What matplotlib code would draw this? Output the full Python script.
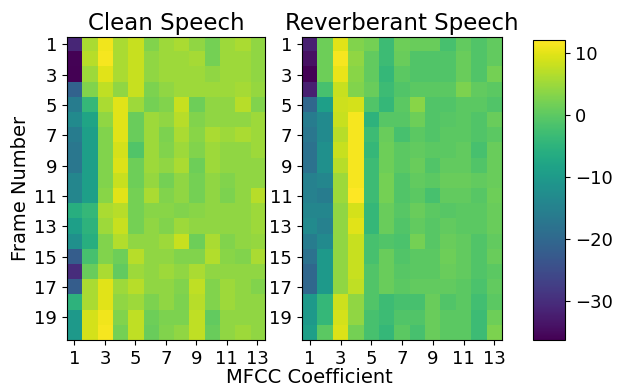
import matplotlib
matplotlib.use("Agg")
import matplotlib.pyplot as plt
import numpy as np

# rows = frames 1..20, columns = MFCC coefficients 1..13
clean = np.array([
    [-31, 6, 11, 6, 8, 3, 5, 6, 4, 2, 5, 6, 4],
    [-36, 7, 11.5, 6, 8, 4, 5, 5, 5.5, 2, 5, 5, 4],
    [-36.2, 5, 10, 6, 8, 4, 5, 5, 5, 4, 5, 5, 4],
    [-21, 3, 7.5, 4, 8, 2.5, 4, 5, 5, 5, 5, 5.5, 4.5],
    [-16, -4, 6, 10, 5, 2, 3, 8, 1.5, 4, 4, 7, 3],
    [-13, -8, 4, 10, 1, 5, 4, 7, 3, 4, 4, 4, 5],
    [-16, -9, 3, 10, 1, 5, 2.5, 6, 3.5, 6, 5, 6, 5],
    [-17, -9, 3, 9, -1, 5, 3, 5, 3, 5, 4, 4, 5],
    [-17, -9, 3, 9.5, 1.5, 5, 4, 6, 1.5, 5, 4, 4, 4],
    [-14, -9, 3, 8, 1.5, 4.5, 2, 4, 2, 4, 3, 4, 4],
    [-14, -9, 3.5, 10, 2, 6, 3, 4, 2, 4, 2.5, 4, 7],
    [-6, -4, 6, 7, 2, 3.5, 3.5, 3, 3.5, 4, 4, 4, 5],
    [-9, -5, 5, 8, 2, 4, 3, 5, 4, 4, 4, 4, 5],
    [-12, -6, 3, 6.5, 4, 4, 5, 8, 1.5, 6, 3, 4, 4.5],
    [-22, -2, 3, 1.5, 7, 4, 4, 3, 3, 6.5, 3.5, 3, 6],
    [-30, 1, 6, 0.5, 5, 4, 5, 4, 6, 4, 4, 4, 4],
    [-22, 6, 10, 5, 7, 4, 4, 3, 7.5, 3, 5, 4, 3],
    [-5, 6, 10, 4, 5, 2.5, 4, 2.5, 7, 3, 5, 4, 4],
    [-10, 9, 11, 3, 7.5, 1.5, 2.5, 2.5, 7.5, 0.5, 4, 4, 4],
    [-10, 9, 11.5, 2, 7.5, 1, 3, 4, 7.5, 1, 4, 5, 4],
])

reverb = np.array([
    [-32, 1.5, 10, 3, 2, -3, 1.5, 1, 1, -2, 0.5, -1, 0.5],
    [-34, 1.5, 11.5, 4, 0.5, -3, 1, -1, -1, -1, 1, -1, 0.5],
    [-36, 1.5, 10.5, 3.5, 0.5, -4, 0, -1, -1, -1, 1, -1, 2],
    [-32, -2, 8, 3, 1, -3, -1, 0, 0, 0, 2.5, 0.5, 0],
    [-20, -9, 8.5, 9, -1, -4, 0, 3.5, -1, -1, 0, 0, -1],
    [-16, -13, 8, 11.5, -5, -0.5, -0.5, 1.5, -1, -0.5, 0, -1, 1],
    [-17, -13, 7, 11.5, -3, 1, -2, 0, -1, 0, 0, -1, 0],
    [-18, -12, 8, 11.5, -4, 1.5, 0, 0.5, 0, 0, 0.5, -2, 1],
    [-18, -12, 7, 11.5, -3, 1.5, 0, 1, -1, 0.5, 0.5, -1, 1],
    [-15, -14, 5, 11.5, -3, 2, -1, 0.5, 0, 1, 1, 0.5, 1],
    [-15, -16, 5, 12.1, -3, 2, -1, 0, -2, 0.5, 0.5, -0.5, 1.5],
    [-14, -14, 4, 9, -4, 1, -0.5, 1, 0, -0.5, 0, 0, 1],
    [-13, -15, 4, 10, -4, 1, -1, 0.5, -0.5, 0.5, 0, 0, 1],
    [-16, -13, 4, 8, -2, -1, -1.5, 2, -0.5, 1, 0.5, -1, 0.5],
    [-18, -10, 4, 8, -2, 1, -1, 0, 0, 1.5, 0.5, -1, 1],
    [-20, -10, 4, 8, -1, 1, -0.5, 0, 0, 1, 0.5, -1, 0],
    [-20, -10, 4, 7.5, -1, 1, 0, 0.5, 0.5, 0.5, 0, -1.5, 0.5],
    [-10, -4, 8.5, 4, -1, -3, -2, -2, 1, -1, 0, -2.5, 0],
    [-10, -4, 9, 4, -2, -3, -1, -1, 1, 0, 0, -3, 1.5],
    [-9, 0, 9.5, 2, -2, -4, 0, -2, 1, 0, 0, -3, 2.5],
])

titles = ["Clean Speech", "Reverberant Speech"]
x_ticks = [1, 3, 5, 7, 9, 11, 13]
y_ticks = [1, 3, 5, 7, 9, 11, 13, 15, 17, 19]

vmin = min(clean.min(), reverb.min())
vmax = max(clean.max(), reverb.max())

fig = plt.figure(figsize=(6.19, 3.88), dpi=100)
ax1 = fig.add_axes([0.108, 0.124, 0.320, 0.781])
ax2 = fig.add_axes([0.488, 0.124, 0.323, 0.781])
cax = fig.add_axes([0.861, 0.124, 0.052, 0.773])

for ax, data, title in zip([ax1, ax2], [clean, reverb], titles):
    im = ax.imshow(data, cmap="viridis", vmin=vmin, vmax=vmax, aspect="auto",
                   extent=[0.5, data.shape[1] + 0.5, data.shape[0] + 0.5, 0.5],
                   interpolation="nearest")
    ax.set_title(title, fontsize=16.5, pad=5)
    ax.set_xticks(x_ticks)
    ax.set_yticks(y_ticks)
    ax.tick_params(labelsize=13)

ax1.set_ylabel("Frame Number", fontsize=14, labelpad=3)
fig.text(0.50, 0.012, "MFCC Coefficient", ha="center", fontsize=14)

cb = fig.colorbar(im, cax=cax, ticks=[10, 0, -10, -20, -30])
cb.ax.tick_params(labelsize=13)

fig.savefig("out.png", dpi=100)
